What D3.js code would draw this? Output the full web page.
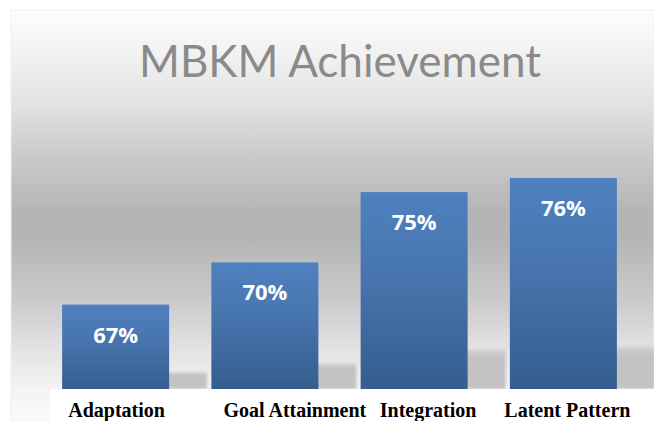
<!DOCTYPE html>
<html>
<head>
<meta charset="utf-8">
<script src="https://cdn.jsdelivr.net/npm/d3@7"></script>
<style>
  body { margin: 0; background: #fff; }
  svg { display: block; }
</style>
</head>
<body>
<div id="chart"></div>
<script>
const categories = ['Adaptation', 'Goal Attainment', 'Integration', 'Latent Pattern'];
const values = [67, 70, 75, 76];
const title = 'MBKM Achievement';

// label nudges, the category text sits a bit off the bar centres in the original
const labelShift = [1, 30, 14, 4];

const W = 654, H = 421;

const svg = d3.select('#chart')
              .append('svg')
              .attr('width', W)
              .attr('height', H);

const defs = svg.append('defs');

const bg = defs.append('linearGradient')
               .attr('id', 'bg')
               .attr('x1', 0).attr('y1', 0).attr('x2', 0).attr('y2', 1);
[[0, '#fdfdfd'], [0.12, '#f0f0f0'], [0.22, '#e4e4e4'], [0.34, '#cdcdcd'], [0.49, '#b5b5b5'],
 [0.56, '#b5b5b5'], [0.71, '#cbcbcb'], [0.83, '#e4e4e4'], [0.925, '#f4f4f4'], [1, '#fbfbfb']]
  .forEach(s => bg.append('stop').attr('offset', s[0]).attr('stop-color', s[1]));

const barGrad = defs.append('linearGradient')
                    .attr('id', 'bar')
                    .attr('x1', 0).attr('y1', 0).attr('x2', 0).attr('y2', 1);
barGrad.append('stop').attr('offset', 0).attr('stop-color', '#4f81bf');
barGrad.append('stop').attr('offset', 0.45).attr('stop-color', '#4774ad');
barGrad.append('stop').attr('offset', 1).attr('stop-color', '#355d8f');

const shGrad = defs.append('linearGradient')
                   .attr('id', 'sh')
                   .attr('x1', 0).attr('y1', 0).attr('x2', 0).attr('y2', 1);
shGrad.append('stop').attr('offset', 0).attr('stop-color', '#d0d0d0');
shGrad.append('stop').attr('offset', 0.2).attr('stop-color', '#c3c3c3');
shGrad.append('stop').attr('offset', 1).attr('stop-color', '#c2c2c2');

defs.append('filter')
    .attr('id', 'blur')
    .attr('x', '-30%').attr('y', '-30%').attr('width', '160%').attr('height', '160%')
    .append('feGaussianBlur')
    .attr('stdDeviation', 1.5);

// chart area background
svg.append('rect')
   .attr('x', 11).attr('y', 10)
   .attr('width', W - 11).attr('height', H - 10)
   .attr('fill', 'url(#bg)')
   .attr('stroke', '#f0f0f0');

svg.append('text')
   .attr('x', 340)
   .attr('y', 77)
   .attr('text-anchor', 'middle')
   .attr('font-family', 'Lato, "Open Sans", sans-serif')
   .attr('font-size', 44)
   .attr('fill', '#8a8a8a')
   .text(title);

const x = d3.scaleBand()
            .domain(categories)
            .range([41, 638])
            .paddingInner(0.283)
            .paddingOuter(0.1415);

const y = d3.scaleLinear()
            .domain([61, 76])
            .range([389, 178]);

const data = categories.map((c, i) => ({ name: c, value: values[i], shift: labelShift[i] }));

// shadows thrown to the right of the bars
svg.append('g')
   .selectAll('rect')
   .data(data)
   .enter()
   .append('rect')
   .attr('x', d => x(d.name) + 38)
   .attr('width', x.bandwidth())
   .attr('y', d => y(61) - (y(61) - y(d.value)) * 0.2)
   .attr('height', d => (y(61) - y(d.value)) * 0.2)
   .attr('fill', 'url(#sh)')
   .attr('filter', 'url(#blur)');

const bars = svg.append('g')
                .selectAll('g')
                .data(data)
                .enter()
                .append('g');

bars.append('rect')
    .attr('x', d => x(d.name))
    .attr('y', d => y(d.value))
    .attr('width', x.bandwidth())
    .attr('height', d => y(61) - y(d.value))
    .attr('fill', 'url(#bar)');

bars.append('text')
    .attr('x', d => x(d.name) + x.bandwidth() / 2)
    .attr('y', d => y(d.value) + 38)
    .attr('text-anchor', 'middle')
    .attr('font-family', '"Open Sans", sans-serif')
    .attr('font-weight', 700)
    .attr('font-size', 22)
    .attr('fill', '#ffffff')
    .text(d => d.value + '%');

// white strip under the plot, where the category names sit
svg.append('rect')
   .attr('x', 50).attr('y', y(61))
   .attr('width', W - 50).attr('height', H - y(61))
   .attr('fill', '#ffffff');

svg.append('g')
   .selectAll('text')
   .data(data)
   .enter()
   .append('text')
   .attr('x', d => x(d.name) + x.bandwidth() / 2 + d.shift)
   .attr('y', 417)
   .attr('text-anchor', 'middle')
   .attr('font-family', '"Liberation Serif", "Times New Roman", serif')
   .attr('font-weight', 700)
   .attr('font-size', 20)
   .attr('fill', '#000')
   .text(d => d.name);
</script>
</body>
</html>
